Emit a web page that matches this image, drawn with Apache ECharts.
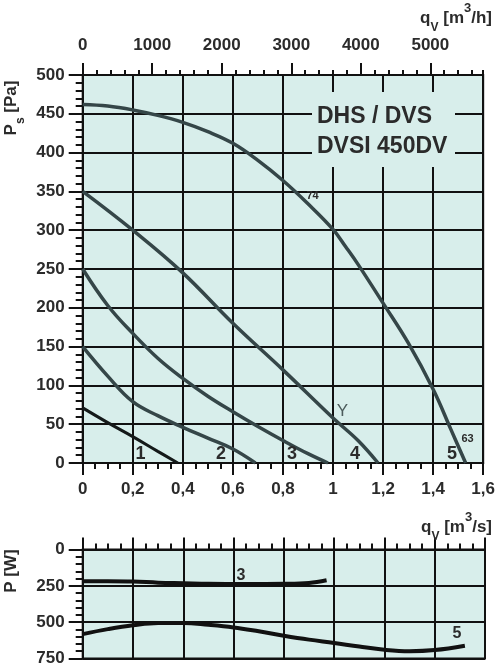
<!DOCTYPE html>
<html>
<head>
<meta charset="utf-8">
<script src="https://cdn.jsdelivr.net/npm/echarts@6.0.0/dist/echarts.min.js"></script>
<style>
html,body{margin:0;padding:0;background:#fff}
#chart{width:498px;height:667px}
</style>
</head>
<body>
<div id="chart"></div>
<script>
// fan curves: [q m3/s, ps Pa]
var curve1 = [[0,71],[0.1,52],[0.2,34],[0.3,15],[0.38,0]];
var curve2 = [[0,150],[0.1,112],[0.2,79],[0.3,61],[0.4,46],[0.5,32],[0.6,18],[0.69,0]];
var curve3 = [[0,250],[0.1,203],[0.2,167],[0.3,135],[0.4,109],[0.5,86],[0.6,66],[0.7,47],[0.8,29],[0.9,12],[0.98,0]];
var curve4 = [[0,350],[0.2,300],[0.4,245],[0.6,180],[0.8,120],[1.0,58],[1.1,29],[1.18,0]];
var curve5 = [[0,462],[0.1,460],[0.2,455],[0.3,448],[0.4,439],[0.5,427],[0.6,412],[0.7,390],[0.8,364],[0.9,334],[1.0,301],[1.05,279],[1.1,256],[1.2,206],[1.3,155],[1.4,95],[1.47,44],[1.53,0]];

// power curves: [q m3/s, P W]
var power3 = [[0,218],[0.1,218],[0.2,220],[0.3,228],[0.4,232],[0.5,236],[0.6,237],[0.7,237],[0.8,236],[0.9,230],[0.97,212]];
var power5 = [[0,582],[0.1,548],[0.2,521],[0.3,505],[0.4,505],[0.5,518],[0.6,536],[0.7,563],[0.8,593],[0.9,620],[1.0,643],[1.1,668],[1.2,690],[1.3,700],[1.4,692],[1.52,662]];

var curveNames = ['1','2','3','4','5'];
var qMaxM3s = 1.6;
var qMaxM3h = 5760;

var FONT = 'Liberation Sans, Arial, sans-serif';
var TXT = '#2b2b2b';
var BG = '#d8eeeb';
var LINE = '#111';

var chart = echarts.init(document.getElementById('chart'));

function labelStyle(fmt) {
    return {
        fontFamily: FONT, fontWeight: 'bold', fontSize: 17, color: TXT,
        formatter: fmt
    };
}
var comma = function (v) { return String(+v.toFixed(1)).replace('.', ','); };

var rich = {
    b: {fontFamily: FONT, fontWeight: 'bold', fontSize: 17, fill: TXT, lineHeight: 32, verticalAlign: 'middle'},
    sub: {fontFamily: FONT, fontWeight: 'bold', fontSize: 12, fill: TXT, lineHeight: 14, verticalAlign: 'bottom'},
    sup: {fontFamily: FONT, fontWeight: 'bold', fontSize: 13, fill: TXT, lineHeight: 13, verticalAlign: 'top'}
};

function txt(s, x, y, size, extra) {
    var o = {
        type: 'text', x: x, y: y, z: 60,
        style: {text: s, font: 'bold ' + size + 'px ' + FONT, fill: TXT, textAlign: 'center', textVerticalAlign: 'middle'}
    };
    if (extra) for (var k in extra) o.style[k] = extra[k];
    return o;
}

function lineSeries(name, data, color, width, xi, yi) {
    return {
        name: name, type: 'line', data: data, xAxisIndex: xi, yAxisIndex: yi,
        smooth: 0.4, showSymbol: false, symbol: 'none', silent: true,
        lineStyle: {color: color, width: width}, z: 5
    };
}

var option = {
    animation: false,
    grid: [
        {left: 82.7, right: 13, top: 75, height: 388, show: true, backgroundColor: BG, borderColor: LINE, borderWidth: 2},
        {left: 82.7, right: 13, top: 549.5, height: 111, show: true, backgroundColor: BG, borderColor: LINE, borderWidth: 2}
    ],
    xAxis: [
        {   // main, m3/s
            type: 'value', gridIndex: 0, position: 'bottom', min: 0, max: qMaxM3s, interval: 0.2,
            axisLine: {lineStyle: {color: LINE, width: 2}},
            axisTick: {length: 12, lineStyle: {color: LINE, width: 2}},
            minorTick: {show: true, splitNumber: 4, length: 6, lineStyle: {color: LINE, width: 2}},
            splitLine: {show: true, lineStyle: {color: LINE, width: 2}},
            axisLabel: Object.assign(labelStyle(comma), {margin: 18})
        },
        {   // top, m3/h major
            type: 'value', gridIndex: 0, position: 'top', min: 0, max: qMaxM3h, interval: 1000,
            axisLine: {show: false},
            axisTick: {length: 12, lineStyle: {color: LINE, width: 2}},
            splitLine: {show: false},
            axisLabel: Object.assign(labelStyle(function (v) { return v % 1000 === 0 ? String(v) : ''; }), {margin: 21, showMaxLabel: false})
        },
        {   // top, m3/h minor
            type: 'value', gridIndex: 0, position: 'top', min: 0, max: qMaxM3h, interval: 200,
            axisLine: {show: false},
            axisTick: {length: 5, lineStyle: {color: LINE, width: 2}},
            splitLine: {show: false},
            axisLabel: {show: false}
        },
        {   // power chart
            type: 'value', gridIndex: 1, position: 'top', min: 0, max: qMaxM3s, interval: 0.2,
            axisLine: {lineStyle: {color: LINE, width: 2}},
            axisTick: {length: 12, lineStyle: {color: LINE, width: 2}},
            minorTick: {show: true, splitNumber: 4, length: 6, lineStyle: {color: LINE, width: 2}},
            splitLine: {show: true, lineStyle: {color: LINE, width: 2}},
            axisLabel: {show: false}
        }
    ],
    yAxis: [
        {
            type: 'value', gridIndex: 0, min: 0, max: 500, interval: 50,
            axisLine: {show: true, lineStyle: {color: LINE, width: 2}},
            axisTick: {length: 14, lineStyle: {color: LINE, width: 2}},
            minorTick: {show: true, splitNumber: 5, length: 7, lineStyle: {color: LINE, width: 2}},
            splitLine: {show: true, lineStyle: {color: LINE, width: 2}},
            axisLabel: Object.assign(labelStyle(), {margin: 18})
        },
        {
            type: 'value', gridIndex: 1, min: 0, max: 750, interval: 250, inverse: true,
            axisLine: {show: true, lineStyle: {color: LINE, width: 2}},
            axisTick: {length: 14, lineStyle: {color: LINE, width: 2}},
            minorTick: {show: true, splitNumber: 5, length: 7, lineStyle: {color: LINE, width: 2}},
            splitLine: {show: true, lineStyle: {color: LINE, width: 2}},
            axisLabel: Object.assign(labelStyle(), {margin: 18})
        }
    ],
    series: [
        lineSeries(curveNames[0], curve1, '#141919', 3, 0, 0),
        lineSeries(curveNames[1], curve2, '#354648', 3.5, 0, 0),
        lineSeries(curveNames[2], curve3, '#354648', 3.5, 0, 0),
        lineSeries(curveNames[3], curve4, '#354648', 3.5, 0, 0),
        lineSeries(curveNames[4], curve5, '#354648', 3.5, 0, 0),
        lineSeries('P3', power3, '#111', 4, 3, 1),
        lineSeries('P5', power5, '#111', 4, 3, 1)
    ],
    graphic: [
        {type: 'rect', z: 55, shape: {x: 312, y: 92, width: 143, height: 75}, style: {fill: BG}},
        txt('DHS / DVS', 317, 117, 23, {textAlign: 'left'}),
        txt('DVSI 450DV', 317, 147, 23, {textAlign: 'left'}),
        txt(curveNames[0], 140.5, 454, 18),
        txt(curveNames[1], 221, 454, 18),
        txt(curveNames[2], 292, 454, 18),
        txt(curveNames[3], 355, 454, 18),
        txt(curveNames[4], 452, 454, 18),
        txt('74', 312.5, 196, 11),
        txt('63', 467.5, 439, 11),
        {type: 'text', x: 342.5, y: 411.5, z: 60, style: {text: 'Y', font: '17px ' + FONT, fill: '#4c5c5c', textAlign: 'center', textVerticalAlign: 'middle'}},
        txt('3', 241, 576, 16),
        txt('5', 457, 634, 16),
        {type: 'text', x: 492, y: 2, z: 60, style: {text: '{b|q}{sub|V}{b| [m}{sup|3}{b|/h]}', rich: rich, textAlign: 'right', textVerticalAlign: 'top'}},
        {type: 'text', x: 492, y: 511, z: 60, style: {text: '{b|q}{sub|V}{b| [m}{sup|3}{b|/s]}', rich: rich, textAlign: 'right', textVerticalAlign: 'top'}},
        {type: 'text', x: 11, y: 108, rotation: Math.PI / 2, z: 60, style: {text: '{b|P}{sub|s}{b| [Pa]}', rich: rich, textAlign: 'center', textVerticalAlign: 'middle'}},
        {type: 'text', x: 11, y: 571, rotation: Math.PI / 2, z: 60, style: {text: 'P [W]', font: 'bold 17px ' + FONT, fill: TXT, textAlign: 'center', textVerticalAlign: 'middle'}}
    ]
};

chart.setOption(option);
</script>
</body>
</html>
